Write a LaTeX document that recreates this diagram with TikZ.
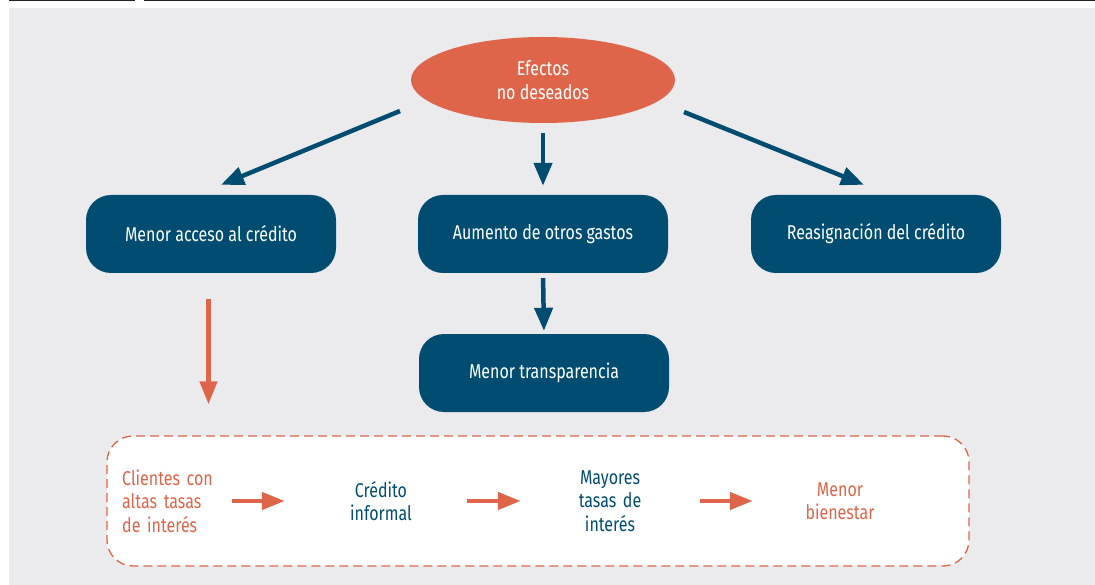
\documentclass[tikz,border=0pt]{standalone}
\usepackage{fontspec}
\setmainfont{Fira Sans}[FakeStretch=0.8]
\usetikzlibrary{arrows.meta}
\usetikzlibrary{shapes.geometric}

\definecolor{efblue}{HTML}{004D71}
\definecolor{eforange}{HTML}{DE654A}
\definecolor{efgrey}{HTML}{EBEBED}
\definecolor{efblack}{HTML}{231F20}

\begin{document}
\begin{tikzpicture}[
            x=1pt, y=-1pt,
            every node/.style={font=\fontsize{20}{23.5}\selectfont},
            caja/.style={
                rectangle,
                rounded corners=25pt,
                fill=efblue,
                text=white,
                minimum width=250pt,
                minimum height=78pt
            },
            flecha/.style={
                draw=efblue,
                line width=4.5pt,
                -{Triangle[width=18pt,length=23pt]}
            },
            flechanar/.style={
                draw=eforange,
                line width=4.5pt,
                -{Triangle[width=17pt,length=23pt]}
            },
            paso/.style={
                align=center,
                inner sep=0pt,
                text width=100pt
            }
        ]
        \useasboundingbox (0,0) rectangle (1095,585);
        \fill[efgrey] (9,8) rectangle (1095,585);
        \draw[efblack, line width=1.5pt] (9,0.75) -- (135,0.75);
        \draw[efblack, line width=1.5pt] (144,0.75) -- (1095,0.75);

        % upper part
        \node[ellipse, fill=eforange, text=white, align=center,
            minimum width=264pt, minimum height=86pt] (efectos) at (543,80) {Efectos\\no deseados};
        \node[caja] (acceso) at (211,234) {Menor acceso al crédito};
        \node[caja] (gastos) at (543,234) {Aumento de otros gastos};
        \node[caja] (reasig) at (876,234) {Reasignación del crédito};
        \node[caja] (transp) at (544,373) {Menor transparencia};

        \coordinate (izq) at (400,111);
        \coordinate (der) at (684,112);
        \draw[flecha] (izq) -- ([xshift=10pt,yshift=10pt]acceso.north);
        \draw[flecha, shorten <=10pt, shorten >=9pt] (efectos.south) -- (gastos.north);
        \draw[flecha] (der) -- ([xshift=-12pt,yshift=10pt]reasig.north);
        \draw[flecha, shorten <=5pt, shorten >=3pt] (gastos.south) -- (transp.north);

        % lower part
        \node[draw=eforange, dashed, dash pattern=on 9pt off 5pt, line width=1.3pt,
            fill=white, rounded corners=26pt, minimum width=862pt,
            minimum height=130pt] (marco) at (538,501) {};
        \draw[flechanar, shorten <=26pt, shorten >=31pt]
            ([xshift=-2.5pt]acceso.south) -- ([xshift=-2.5pt]acceso.south |- marco.north);

        \node[paso, anchor=west, align=left, text=eforange] (clientes) at (122,501)
            {Clientes con\\altas tasas\\de interés};
        \node[paso, text=efblue] (informal) at (381,501) {Crédito\\informal};
        \node[paso, text=efblue] (mayores) at (610,501) {Mayores\\tasas de\\interés};
        \node[paso, text=eforange] (bienestar) at (840,501) {Menor\\bienestar};

        \foreach \a/\b/\s/\t in {clientes/informal/10/46, informal/mayores/36/39, mayores/bienestar/40/37}
            \draw[flechanar, shorten <=\s pt, shorten >=\t pt] (\a.east) -- (\b.west);
        \end{tikzpicture}
\end{document}
